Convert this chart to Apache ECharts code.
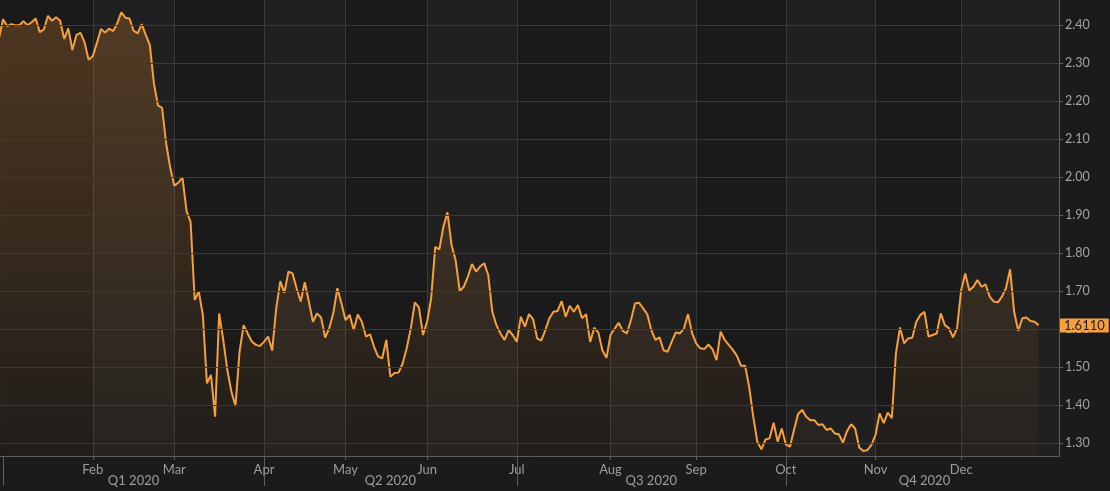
<!DOCTYPE html>
<html><head><meta charset="utf-8">
<script src="https://cdn.jsdelivr.net/npm/echarts@6/dist/echarts.min.js"></script>
<style>html,body{margin:0;padding:0;background:#1b1b1b}#c{width:1110px;height:491px}</style>
</head><body><div id="c"></div>
<script>
// ---- trading calendar ----
const firstDate = '2019-12-31';
const lastDate = '2021-01-06';
const holidays = ['2020-01-01','2020-04-10','2020-04-13','2020-05-01','2020-12-25','2021-01-01'];
const monthNames = ['Jan','Feb','Mar','Apr','May','Jun','Jul','Aug','Sep','Oct','Nov','Dec'];
const yTicks = [1.30,1.40,1.50,1.60,1.70,1.80,1.90,2.00,2.10,2.20,2.30,2.40];
const labelYear = '2020';

// ---- values (one per trading day) ----
const priorClose = [2.366];
const janValues = [2.416,2.398,2.403,2.400,2.400,2.411,2.400,2.408,2.418,2.382,2.389,2.425,2.412,2.421,2.412,2.364,2.392,2.335,2.375,2.380,2.355,2.309];
const febValues = [2.319,2.353,2.390,2.381,2.391,2.385,2.405,2.434,2.420,2.418,2.386,2.379,2.403,2.375,2.348,2.247,2.189,2.183,2.089,2.025];
const marValues = [1.978,1.986,2.000,1.911,1.882,1.677,1.699,1.638,1.458,1.480,1.370,1.642,1.572,1.493,1.436,1.398,1.541,1.611,1.589,1.568,1.559,1.556];
const aprValues = [1.567,1.581,1.544,1.655,1.727,1.696,1.752,1.747,1.708,1.673,1.724,1.673,1.620,1.642,1.631,1.578,1.603,1.642,1.708,1.668];
const mayValues = [1.624,1.638,1.598,1.639,1.620,1.581,1.587,1.554,1.528,1.524,1.572,1.475,1.485,1.486,1.510,1.550,1.602,1.671,1.658,1.585];
const junValues = [1.620,1.681,1.817,1.810,1.870,1.908,1.822,1.782,1.701,1.712,1.738,1.772,1.752,1.765,1.774,1.743,1.646,1.611,1.589,1.572,1.598,1.585];
const julValues = [1.567,1.633,1.607,1.640,1.627,1.576,1.570,1.598,1.629,1.646,1.648,1.674,1.633,1.662,1.646,1.664,1.629,1.640,1.567,1.604,1.592,1.545,1.525];
const augValues = [1.585,1.602,1.617,1.596,1.589,1.624,1.668,1.670,1.655,1.640,1.598,1.572,1.579,1.545,1.541,1.567,1.592,1.589,1.602,1.640,1.590];
const sepValues = [1.563,1.550,1.548,1.560,1.548,1.519,1.594,1.572,1.559,1.546,1.530,1.504,1.504,1.449,1.370,1.304,1.284,1.310,1.313,1.354,1.304,1.339];
const octValues = [1.297,1.291,1.335,1.377,1.388,1.370,1.361,1.361,1.348,1.350,1.335,1.339,1.326,1.324,1.302,1.332,1.350,1.339,1.289,1.280,1.282,1.296];
const novValues = [1.322,1.379,1.353,1.381,1.366,1.537,1.605,1.563,1.576,1.578,1.620,1.638,1.646,1.581,1.585,1.589,1.642,1.611,1.603,1.579,1.603];
const decValues = [1.703,1.747,1.702,1.712,1.730,1.712,1.718,1.686,1.673,1.671,1.686,1.708,1.758,1.646,1.596,1.629,1.631,1.622,1.620,1.611];

// ---- build categories ----
const dates = [];
(function(){
  const d = new Date(firstDate + 'T00:00:00Z');
  const end = new Date(lastDate + 'T00:00:00Z');
  while (d <= end) {
    const wd = d.getUTCDay();
    const s = d.toISOString().slice(0,10);
    if (wd !== 0 && wd !== 6 && holidays.indexOf(s) < 0) dates.push(s);
    d.setUTCDate(d.getUTCDate() + 1);
  }
})();
const values = [].concat(priorClose, janValues, febValues, marValues, aprValues, mayValues, junValues, julValues, augValues, sepValues, octValues, novValues, decValues);
while (values.length < dates.length) values.push(null);
const lastValue = decValues[decValues.length - 1];

function isMonthStart(i){
  return i > 0 && dates[i].slice(0,4) === labelYear && dates[i].slice(0,7) !== dates[i-1].slice(0,7);
}
function isMonthTick(i){ return isMonthStart(i) && dates[i].slice(5,7) !== '01'; }
function isAreaTick(i){ return isMonthStart(i) || i === dates.length - 1; }
function isQuarterStart(i){ return isMonthStart(i) && ['01','04','07','10'].indexOf(dates[i].slice(5,7)) >= 0; }
const qStarts = [];
dates.forEach((d,i)=>{ if (isQuarterStart(i)) qStarts.push(i); });
const qBounds = qStarts.concat([dates.length - 1]);
const qMids = [];
for (let k = 0; k < qStarts.length; k++) qMids.push(Math.round((qBounds[k] + qBounds[k+1]) / 2));

const font = 'Lato, "Open Sans", sans-serif';
const axisGrey = '#5e5e5e';
const gridGrey = '#3a3a3a';
const chart = echarts.init(document.getElementById('c'), null, {renderer:'canvas'});
chart.setOption({
  animation: false,
  backgroundColor: '#1b1b1b',
  grid: [
    {left: -1, right: 51, top: 0, bottom: 35, outerBoundsMode: 'none', containLabel: false},
    {left: -1, right: 51, top: 0, bottom: 35, outerBoundsMode: 'none', containLabel: false}
  ],
  xAxis: [
    {
      type: 'category', gridIndex: 0, data: dates, boundaryGap: false,
      axisLine: {show: true, lineStyle: {color: axisGrey, width: 1}},
      axisTick: {show: true, interval: isMonthTick, length: 4, lineStyle: {color: axisGrey}},
      axisLabel: {interval: isMonthTick, formatter: v => monthNames[+v.slice(5,7) - 1], color: '#9d9d9d', fontSize: 13, margin: 7, fontFamily: font},
      splitLine: {show: true, interval: isMonthTick, lineStyle: {color: gridGrey, width: 1}},
      splitArea: {show: true, interval: isAreaTick, areaStyle: {color: ['#1a1a1a', '#202020']}}
    },
    {
      type: 'category', gridIndex: 1, data: dates, boundaryGap: false,
      axisLine: {show: false},
      axisTick: {show: true, interval: isQuarterStart, length: 30, lineStyle: {color: axisGrey}},
      axisLabel: {interval: i => qMids.indexOf(i) >= 0,
        formatter: v => 'Q' + (Math.floor((+v.slice(5,7) - 1) / 3) + 1) + ' ' + v.slice(0,4),
        color: '#9d9d9d', fontSize: 13, margin: 18, fontFamily: font},
      splitLine: {show: false}
    }
  ],
  yAxis: [
    {
      type: 'value', gridIndex: 0, position: 'right', min: 1.2666, max: 2.4666,
      axisLine: {show: true, lineStyle: {color: axisGrey}},
      axisTick: {show: true, length: 4, customValues: yTicks, lineStyle: {color: axisGrey}},
      axisLabel: {customValues: yTicks, formatter: v => v.toFixed(2), color: '#a3a3a3', fontSize: 12.5, margin: 6, fontFamily: font},
      splitLine: {show: false}
    },
    {type: 'value', gridIndex: 1, show: false, min: 0, max: 1}
  ],
  series: [
    {
      // horizontal grid lines at the y tick values
      type: 'line', xAxisIndex: 0, yAxisIndex: 0, data: [], z: 1, silent: true,
      markLine: {
        silent: true, symbol: 'none', animation: false,
        lineStyle: {color: gridGrey, width: 1, type: 'solid'},
        label: {show: false},
        emphasis: {disabled: true},
        data: yTicks.map(v => ({yAxis: v}))
      }
    },
    {
      type: 'line', xAxisIndex: 0, yAxisIndex: 0, data: values, z: 3,
      showSymbol: false, symbol: 'none', connectNulls: false,
      lineStyle: {color: '#f5a03f', width: 2},
      itemStyle: {color: '#f5a03f'},
      areaStyle: {origin: 'start', color: new echarts.graphic.LinearGradient(0, 0, 0, 1, [
        {offset: 0, color: 'rgba(232,139,49,0.36)'},
        {offset: 1, color: 'rgba(232,139,49,0.04)'}
      ])},
      markLine: {
        silent: true, symbol: 'none', animation: false,
        lineStyle: {color: 'rgba(0,0,0,0)', width: 0},
        data: [{yAxis: lastValue}],
        label: {show: true, position: 'end', distance: 1, formatter: () => lastValue.toFixed(4),
          backgroundColor: '#f5a03f', color: '#1e1e1e', fontSize: 13, padding: [1, 4, 0, 4], fontFamily: font}
      }
    }
  ]
});
</script>
</body></html>
